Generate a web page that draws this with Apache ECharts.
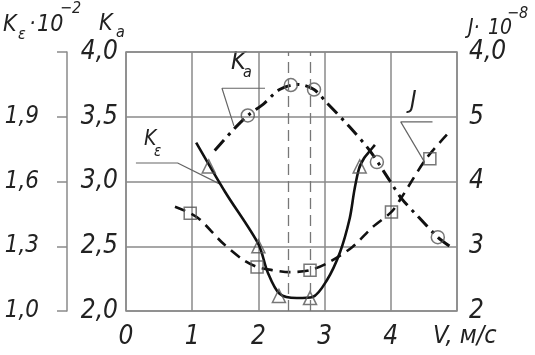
<!DOCTYPE html>
<html><head><meta charset="utf-8">
<script src="https://cdn.jsdelivr.net/npm/echarts@6/dist/echarts.min.js"></script>
<style>html,body{margin:0;padding:0;background:#fff}#c{width:535px;height:355px}</style>
</head><body><div id="c"></div>
<script>
// ---- data ----
const xTicks = [0, 1, 2, 3, 4];
const kaTicks = [2.0, 2.5, 3.0, 3.5, 4.0];
const keTicks = [1.0, 1.3, 1.6, 1.9];
const jTicks = [2, 3, 4, 5, 6];
const jTopLabel = '4,0';

// K_a curve (dash-dot) and measured points (circles)
const kaLineV = [1.34, 1.64, 1.84, 2.08, 2.32, 2.6, 2.84, 3.03, 3.38, 3.68, 3.98, 4.16, 4.43, 4.71, 4.89];
const kaLineY = [3.24, 3.41, 3.51, 3.60, 3.71, 3.75, 3.71, 3.61, 3.42, 3.24, 3.01, 2.87, 2.72, 2.57, 2.50];
const kaPtsV = [1.84, 2.49, 2.84, 3.79, 4.71];
const kaPtsY = [3.51, 3.745, 3.71, 3.15, 2.57];

// K_eps curve (solid) and measured points (triangles)
const keLineV = [1.06, 1.5, 2.0, 2.14, 2.32, 2.58, 2.82, 3.03, 3.23, 3.38, 3.45, 3.52, 3.6, 3.68, 3.76];
const keLineY = [1.78, 1.55, 1.31, 1.18, 1.08, 1.06, 1.065, 1.14, 1.27, 1.43, 1.56, 1.66, 1.71, 1.74, 1.77];
const kePtsV = [1.25, 2.0, 2.31, 2.78, 3.53];
const kePtsY = [1.67, 1.30, 1.07, 1.06, 1.67];

// J curve (dashed) and measured points (squares)
const jLineV = [0.74, 0.97, 1.12, 1.46, 1.77, 1.98, 2.22, 2.47, 2.78, 3.08, 3.42, 3.73, 4.01, 4.16, 4.54, 4.89];
const jLineY = [3.61, 3.51, 3.41, 3.05, 2.79, 2.68, 2.63, 2.60, 2.63, 2.76, 2.99, 3.30, 3.53, 3.75, 4.36, 4.77];
const jPtsV = [0.97, 1.98, 2.78, 4.01, 4.59];
const jPtsY = [3.51, 2.68, 2.63, 3.53, 4.35];

// vertical dashed reference lines
const refV = [2.45, 2.78];

// leader lines for curve labels (in V / K_a coordinates)
const leaderKe = [[0.15, 3.143], [0.78, 3.143], [1.42, 2.98]];
const leaderKa = [[2.10, 3.72], [1.45, 3.72], [1.63, 3.43]];
const leaderJ = [[4.63, 3.46], [4.15, 3.46], [4.51, 3.15]];

// ---- chart ----
const FONT = "'DejaVu Sans Condensed','DejaVu Sans',sans-serif";
const TXT = '#222';
const GRID = '#8a8a8a';
const comma = v => Number(v).toFixed(1).replace('.', ',');
const zip = (a, b) => a.map((v, i) => [v, b[i]]);
const lab = {fontFamily: FONT, fontStyle: 'italic', fontSize: 26, color: TXT};

function leaderSeries(pts) {
  return {type: 'line', data: pts, yAxisIndex: 0, symbol: 'none', silent: true,
    lineStyle: {color: '#666', width: 1.2}, z: 1};
}

const chart = echarts.init(document.getElementById('c'), null, {renderer: 'canvas'});
const t = (text, x, y, size, extra) => Object.assign({type: 'text', style: {text, x, y,
  fontFamily: FONT, fontStyle: 'italic', fontSize: size, fill: TXT, align: 'left', verticalAlign: 'middle'}}, extra || {});

chart.setOption({
  animation: false,
  backgroundColor: '#fff',
  grid: {left: 126, right: 78, top: 52, bottom: 44, show: true, borderColor: GRID, borderWidth: 1.5,
    containLabel: false, outerBoundsMode: 'none'},
  xAxis: {type: 'value', min: 0, max: 5, interval: 1,
    axisLine: {show: false}, axisTick: {show: false},
    splitLine: {show: true, lineStyle: {color: GRID, width: 1.5}},
    axisLabel: Object.assign({}, lab, {margin: 13, formatter: v => xTicks.includes(v) ? String(v) : ''})},
  yAxis: [
    {type: 'value', position: 'left', min: 2, max: 4, interval: 0.5,
      axisLine: {show: false}, axisTick: {show: false},
      splitLine: {show: true, lineStyle: {color: GRID, width: 1.5}},
      axisLabel: Object.assign({}, lab, {margin: 8, formatter: v => kaTicks.includes(v) ? comma(v) : ''})},
    {type: 'value', position: 'left', offset: 59, min: 1.0, max: 2.2,
      axisLine: {show: true, lineStyle: {color: GRID, width: 1.5}},
      axisTick: {show: true, length: 10, customValues: [1.0, 1.3, 1.6, 1.9, 2.2], lineStyle: {color: GRID, width: 1.5}},
      splitLine: {show: false},
      axisLabel: Object.assign({}, lab, {fontSize: 24, margin: 28, customValues: keTicks, formatter: v => comma(v)})},
    {type: 'value', position: 'right', min: 2, max: 6, interval: 1,
      axisLine: {show: false}, axisTick: {show: false}, splitLine: {show: false},
      axisLabel: Object.assign({}, lab, {margin: 12, formatter: v => v === 6 ? jTopLabel : (jTicks.includes(v) ? String(v) : '')})}
  ],
  series: [
    {type: 'line', data: zip(kaLineV, kaLineY), yAxisIndex: 0, symbol: 'none', smooth: 0.3,
      lineStyle: {color: '#111', width: 3, type: [14, 6, 3, 6]}, z: 3,
      markLine: {silent: true, symbol: 'none', label: {show: false},
        lineStyle: {color: '#777', width: 1.3, type: [11, 6]},
        data: refV.map(v => ({xAxis: v}))}},
    {type: 'line', data: zip(keLineV, keLineY), yAxisIndex: 1, symbol: 'none', smooth: 0.3,
      lineStyle: {color: '#111', width: 2.6}, z: 3},
    {type: 'line', data: zip(jLineV, jLineY), yAxisIndex: 2, symbol: 'none', smooth: 0.3,
      lineStyle: {color: '#111', width: 2.6, type: [11, 7]}, z: 3},
    {type: 'scatter', data: zip(kaPtsV, kaPtsY), yAxisIndex: 0, symbol: 'circle', symbolSize: 13,
      itemStyle: {color: 'rgba(255,255,255,0)', borderColor: '#555', borderWidth: 1.5}, z: 4},
    {type: 'scatter', data: zip(kePtsV, kePtsY), yAxisIndex: 1, symbol: 'triangle', symbolSize: 13,
      itemStyle: {color: 'rgba(255,255,255,0)', borderColor: '#555', borderWidth: 1.5}, z: 4},
    {type: 'scatter', data: zip(jPtsV, jPtsY), yAxisIndex: 2, symbol: 'rect', symbolSize: 12,
      itemStyle: {color: 'rgba(255,255,255,0)', borderColor: '#555', borderWidth: 1.5}, z: 4},
    leaderSeries(leaderKe), leaderSeries(leaderKa), leaderSeries(leaderJ)
  ],
  graphic: [
    // left title: K_eps · 10^-2
    t('K', 3, 25, 23), t('ε', 18, 35, 16), t('·', 29, 25, 23), t('10', 37, 25, 23), t('−2', 60, 9, 16),
    // K_a title
    t('K', 99, 24, 23), t('a', 116, 33, 16),
    // right title: J · 10^-8
    t('J·', 468, 29, 21), t('10', 488, 29, 21), t('−8', 507, 14, 16),
    // curve labels
    t('K', 144, 140, 21), t('ε', 154, 152, 15),
    t('K', 231, 62, 25), t('a', 243, 73, 16),
    t('J', 410, 101, 25),
    // x axis name
    t('V, м/с', 433, 336, 25)
  ]
});
</script></body></html>
